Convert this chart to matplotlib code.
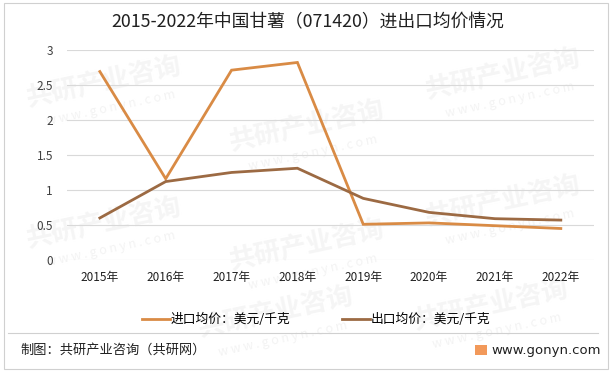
import matplotlib.pyplot as plt
from matplotlib.patches import Rectangle
from matplotlib.lines import Line2D

plt.rcParams['font.family'] = ['Noto Sans CJK SC', 'DejaVu Sans']

# data
years = ['2015年', '2016年', '2017年', '2018年', '2019年', '2020年', '2021年', '2022年']
import_price = [2.69, 1.16, 2.71, 2.82, 0.51, 0.53, 0.49, 0.45]
export_price = [0.60, 1.12, 1.25, 1.31, 0.88, 0.68, 0.59, 0.57]
y_ticks = [0, 0.5, 1, 1.5, 2, 2.5, 3]
y_tick_labels = ['0', '0.5', '1', '1.5', '2', '2.5', '3']

import_color = '#D98B45'
export_color = '#9C6A43'

fig = plt.figure(figsize=(6.14, 3.72), dpi=100)

# faint watermarks on a background axes
bg = fig.add_axes([0, 0, 1, 1], zorder=-10)
bg.axis('off')
for wx, wy in [(0.17, 0.78), (0.50, 0.66), (0.82, 0.80), (0.17, 0.40),
               (0.50, 0.34), (0.82, 0.46), (0.45, 0.16), (0.80, 0.18)]:
    bg.text(wx, wy, '共研产业咨询', fontsize=19, fontweight='bold', color='#f5f5f5',
            rotation=12, ha='center', va='center')
    bg.text(wx + 0.01, wy - 0.07, 'w w w . g o n y n . c o m', fontsize=9,
            color='#f3f3f3', rotation=12, ha='center', va='center')

ax = fig.add_axes([0.109, 0.301, 0.858, 0.565])
ax.patch.set_alpha(0)

x = list(range(len(years)))
ax.plot(x, import_price, color=import_color, lw=2.0, label='进口均价：美元/千克',
        solid_joinstyle='miter', zorder=3)
ax.plot(x, export_price, color=export_color, lw=2.0, label='出口均价：美元/千克',
        solid_joinstyle='miter', zorder=3)

ax.set_xlim(-0.5, len(years) - 0.5)
ax.set_ylim(0, 3)
ax.set_yticks(y_ticks)
ax.set_yticklabels(y_tick_labels)
ax.set_xticks(x)
ax.set_xticklabels(years)
ax.grid(axis='y', color='#d9d9d9', lw=0.8)
ax.set_axisbelow(True)
for s in ax.spines.values():
    s.set_visible(False)
ax.tick_params(axis='both', length=0, labelsize=8.5, colors='#404040')
ax.tick_params(axis='y', pad=10)
ax.tick_params(axis='x', pad=8)
for lab in ax.get_xticklabels():
    lab.set_color('#202020')

fig.text(0.502, 0.94, '2015-2022年中国甘薯（071420）进出口均价情况', fontsize=12.8,
         ha='center', va='center', color='#202020')

ax.legend(loc='center', bbox_to_anchor=(0.515, 0.141), bbox_transform=fig.transFigure,
          ncol=2, frameon=False, fontsize=9.2, handlelength=2.2, handletextpad=0.1,
          columnspacing=4.0)

# separator line and footer
fig.add_artist(Line2D([0.013, 0.974], [0.105, 0.105], color='#d0d0d0', lw=0.8))
fig.text(0.033, 0.059, '制图：共研产业咨询（共研网）', fontsize=9.5, ha='left',
         va='center', color='#202020')
fig.add_artist(Rectangle((0.773, 0.046), 0.020, 0.027, color='#F2995A', lw=0))
fig.text(0.801, 0.059, 'www.gonyn.com', fontsize=9.5, ha='left', va='center',
         color='#202020', family='DejaVu Sans')

# outer border
fig.add_artist(Rectangle((0.006, 0.008), 0.984, 0.983, fill=False,
                         edgecolor='#d0d0d0', lw=0.8))

fig.savefig('out.png', dpi=100)
